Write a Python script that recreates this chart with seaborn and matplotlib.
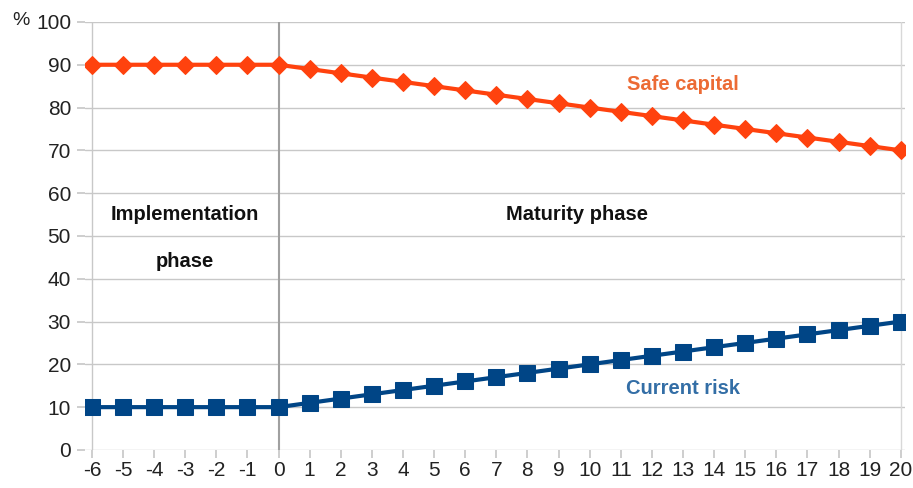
import matplotlib
matplotlib.use("Agg")
import matplotlib.pyplot as plt
import seaborn as sns
import pandas as pd

years = list(range(-6, 21))
safe_capital = [90, 90, 90, 90, 90, 90, 90, 89, 88, 87, 86, 85, 84, 83, 82,
                81, 80, 79, 78, 77, 76, 75, 74, 73, 72, 71, 70]
current_risk = [10, 10, 10, 10, 10, 10, 10, 11, 12, 13, 14, 15, 16, 17, 18,
                19, 20, 21, 22, 23, 24, 25, 26, 27, 28, 29, 30]
y_ticks = list(range(0, 101, 10))

ORANGE = "#ff420e"
BLUE = "#004586"

sns.set_theme(style="white")
plt.rcParams["font.family"] = ["Liberation Sans", "DejaVu Sans"]

df = pd.DataFrame({"year": years, "Safe capital": safe_capital,
                   "Current risk": current_risk})

fig = plt.figure(figsize=(9.13, 4.88), dpi=100)
ax = fig.add_axes([0.093, 0.078, 0.898, 0.877])

for yv in y_ticks:
    ax.axhline(yv, color="#c8c8c8", lw=1.0, zorder=0)
ax.axvline(-6, color="#c8c8c8", lw=1.0, zorder=0)
ax.axvline(20, color="#d8d8d8", lw=1.0, zorder=0)
ax.axvline(0, color="#a0a0a0", lw=1.5, zorder=1)

sns.lineplot(data=df, x="year", y="Safe capital", ax=ax, color=ORANGE,
             lw=3, marker="D", markersize=9.5, markeredgecolor=ORANGE, zorder=3)
sns.lineplot(data=df, x="year", y="Current risk", ax=ax, color=BLUE,
             lw=3, marker="s", markersize=11.5, markeredgecolor=BLUE, zorder=3)

ax.set_xlim(-6.225, 20.13)
ax.set_ylim(0, 100)
ax.set_xticks(years)
ax.set_xticklabels([str(v) for v in years])
ax.set_yticks(y_ticks)
ax.set_xlabel("")
ax.set_ylabel("")
for s in ax.spines.values():
    s.set_visible(False)
ax.tick_params(axis="x", bottom=True, length=6, color="#c8c8c8",
               labelsize=15, pad=2, labelcolor="#222222")
ax.tick_params(axis="y", left=True, length=6, color="#c8c8c8",
               labelsize=15, pad=4, labelcolor="#222222")

fig.text(0.013, 0.958, "%", fontsize=14, color="#222222", ha="left", va="center")

bold = dict(fontsize=14.5, fontweight="bold", ha="center", va="center")
ax.text(-3, 55, "Implementation", color="#111111", **bold)
ax.text(-3, 44, "phase", color="#111111", **bold)
ax.text(9.6, 55, "Maturity phase", color="#111111", **bold)
ax.text(13, 85.5, "Safe capital", color="#ec6b35", **bold)
ax.text(13, 14.3, "Current risk", color="#336ea6", **bold)

fig.savefig("out.png", dpi=100)
